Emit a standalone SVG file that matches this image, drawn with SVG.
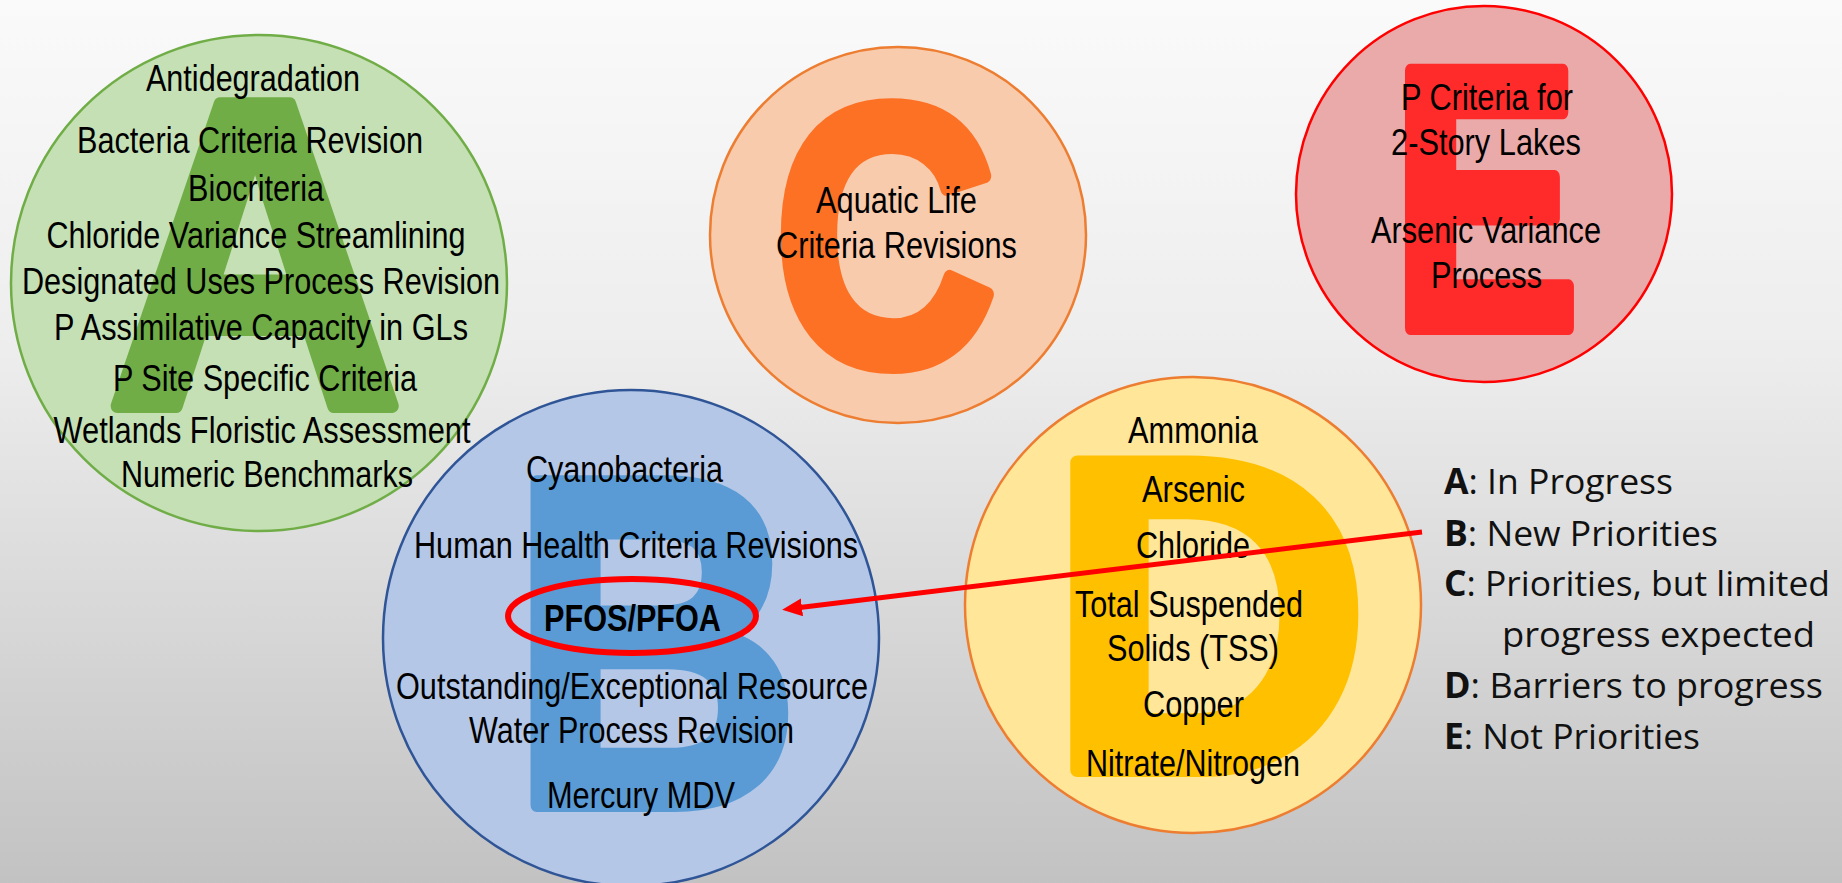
<svg xmlns="http://www.w3.org/2000/svg" width="1842" height="883" viewBox="0 0 1842 883">
<defs>
<linearGradient id="bg" x1="0" y1="0" x2="0" y2="1">
<stop offset="0" stop-color="#FAFAFA"/>
<stop offset="0.4" stop-color="#EDEDED"/>
<stop offset="1" stop-color="#C2C2C2"/>
</linearGradient>
<marker id="arrow" markerUnits="userSpaceOnUse" markerWidth="20" markerHeight="18" refX="2" refY="9" orient="auto">
<path d="M0,0 L20,9 L0,18 z" fill="#FF0000"/>
</marker>
<style>
.t{font-family:"Liberation Sans",Arial,sans-serif;font-size:36px;fill:#000;text-anchor:middle}
.b{font-weight:bold}
.big{font-family:"Liberation Sans",Arial,sans-serif;font-weight:bold;stroke-linejoin:round;stroke-width:14}
.leg{font-family:"Open Sans",sans-serif;font-size:35px;fill:#111}
.circ{stroke-width:2.5}
</style>
</defs>
<rect width="1842" height="883" fill="url(#bg)"/>

<g id="node-A">
<circle class="circ" cx="259" cy="283" r="248" fill="#C5E0B4" stroke="#70AD47"/>
<text class="big" x="107" y="406" font-size="438.5" textLength="296" lengthAdjust="spacingAndGlyphs" fill="#70AD47" stroke="#70AD47">A</text>
<text class="t" x="253" y="91" textLength="214" lengthAdjust="spacingAndGlyphs">Antidegradation</text>
<text class="t" x="250" y="153" textLength="346" lengthAdjust="spacingAndGlyphs">Bacteria Criteria Revision</text>
<text class="t" x="256" y="201" textLength="136" lengthAdjust="spacingAndGlyphs">Biocriteria</text>
<text class="t" x="256" y="248" textLength="419" lengthAdjust="spacingAndGlyphs">Chloride Variance Streamlining</text>
<text class="t" x="261" y="294" textLength="478" lengthAdjust="spacingAndGlyphs">Designated Uses Process Revision</text>
<text class="t" x="261" y="340" textLength="414" lengthAdjust="spacingAndGlyphs">P Assimilative Capacity in GLs</text>
<text class="t" x="265" y="391" textLength="304" lengthAdjust="spacingAndGlyphs">P Site Specific Criteria</text>
<text class="t" x="262" y="443" textLength="417" lengthAdjust="spacingAndGlyphs">Wetlands Floristic Assessment</text>
<text class="t" x="267" y="487" textLength="292" lengthAdjust="spacingAndGlyphs">Numeric Benchmarks</text>
</g>

<g id="node-B">
<circle class="circ" cx="631" cy="638" r="248" fill="#B4C7E7" stroke="#2F5597"/>
<text class="big" x="509.6" y="805" font-size="469" textLength="290.9" lengthAdjust="spacingAndGlyphs" fill="#5B9BD5" stroke="#5B9BD5">B</text>
<text class="t" x="624.5" y="482" textLength="197" lengthAdjust="spacingAndGlyphs">Cyanobacteria</text>
<text class="t" x="636" y="558" textLength="444" lengthAdjust="spacingAndGlyphs">Human Health Criteria Revisions</text>
<text class="t b" x="632.5" y="631" textLength="177" lengthAdjust="spacingAndGlyphs">PFOS/PFOA</text>
<text class="t" x="632" y="699" textLength="472" lengthAdjust="spacingAndGlyphs">Outstanding/Exceptional Resource</text>
<text class="t" x="631.5" y="743" textLength="325" lengthAdjust="spacingAndGlyphs">Water Process Revision</text>
<text class="t" x="641" y="808" textLength="188" lengthAdjust="spacingAndGlyphs">Mercury MDV</text>
</g>

<g id="node-C">
<circle class="circ" cx="898" cy="235" r="188" fill="#F8CBAD" stroke="#ED7D31"/>
<text class="big" x="774" y="363.5" font-size="370" textLength="222.5" lengthAdjust="spacingAndGlyphs" fill="#FD7125" stroke="#FD7125">C</text>
<text class="t" x="896.5" y="213" textLength="161" lengthAdjust="spacingAndGlyphs">Aquatic Life</text>
<text class="t" x="896.5" y="258" textLength="241" lengthAdjust="spacingAndGlyphs">Criteria Revisions</text>
</g>

<g id="node-D">
<circle class="circ" cx="1193" cy="605" r="228" fill="#FFE699" stroke="#ED7D31"/>
<text class="big" x="1047.4" y="770" font-size="447" textLength="322.7" lengthAdjust="spacingAndGlyphs" fill="#FFC000" stroke="#FFC000">D</text>
<text class="t" x="1193" y="443" textLength="130" lengthAdjust="spacingAndGlyphs">Ammonia</text>
<text class="t" x="1193.5" y="502" textLength="103" lengthAdjust="spacingAndGlyphs">Arsenic</text>
<text class="t" x="1193" y="558" textLength="114" lengthAdjust="spacingAndGlyphs">Chloride</text>
<text class="t" x="1189" y="617" textLength="228" lengthAdjust="spacingAndGlyphs">Total Suspended</text>
<text class="t" x="1193" y="661" textLength="172" lengthAdjust="spacingAndGlyphs">Solids (TSS)</text>
<text class="t" x="1193.5" y="717" textLength="101" lengthAdjust="spacingAndGlyphs">Copper</text>
<text class="t" x="1193" y="776" textLength="214" lengthAdjust="spacingAndGlyphs">Nitrate/Nitrogen</text>
</g>

<g id="node-E">
<circle class="circ" cx="1484" cy="194" r="188" fill="#EAAAAA" stroke="#FF0000"/>
<text class="big" x="1391.4" y="328" font-size="374" textLength="188.3" lengthAdjust="spacingAndGlyphs" fill="#FF2B2B" stroke="#FF2B2B">E</text>
<text class="t" x="1487" y="110" textLength="172" lengthAdjust="spacingAndGlyphs">P Criteria for</text>
<text class="t" x="1486" y="155" textLength="190" lengthAdjust="spacingAndGlyphs">2-Story Lakes</text>
<text class="t" x="1486" y="243" textLength="230" lengthAdjust="spacingAndGlyphs">Arsenic Variance</text>
<text class="t" x="1486.5" y="288" textLength="111" lengthAdjust="spacingAndGlyphs">Process</text>
</g>

<g id="highlight">
<ellipse cx="632" cy="616" rx="124" ry="37" fill="none" stroke="#FF0000" stroke-width="6"/>
</g>

<g id="connectors">
<line x1="1422" y1="532" x2="800" y2="607.6" stroke="#FF0000" stroke-width="5" marker-end="url(#arrow)"/>
</g>

<g id="legend">
<text class="leg" x="1444" y="494" textLength="229" lengthAdjust="spacingAndGlyphs"><tspan font-weight="bold">A</tspan>: In Progress</text>
<text class="leg" x="1444" y="546" textLength="274" lengthAdjust="spacingAndGlyphs"><tspan font-weight="bold">B</tspan>: New Priorities</text>
<text class="leg" x="1444" y="596" textLength="386" lengthAdjust="spacingAndGlyphs"><tspan font-weight="bold">C</tspan>: Priorities, but limited</text>
<text class="leg" x="1502" y="647" textLength="313" lengthAdjust="spacingAndGlyphs">progress expected</text>
<text class="leg" x="1444" y="698" textLength="379" lengthAdjust="spacingAndGlyphs"><tspan font-weight="bold">D</tspan>: Barriers to progress</text>
<text class="leg" x="1444" y="749" textLength="256" lengthAdjust="spacingAndGlyphs"><tspan font-weight="bold">E</tspan>: Not Priorities</text>
</g>
</svg>
